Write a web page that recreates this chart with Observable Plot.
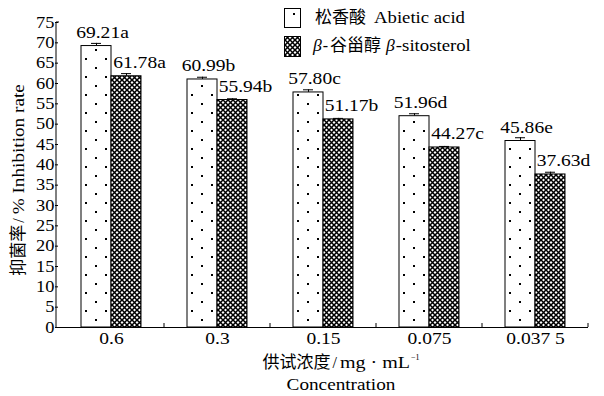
<!DOCTYPE html>
<html>
<head>
<meta charset="utf-8">
<script src="https://cdn.jsdelivr.net/npm/d3@7"></script>
<script src="https://cdn.jsdelivr.net/npm/@observablehq/plot@0.6"></script>
<style>
  body { margin: 0; background: #fff; }
  #chart svg { display: block; }
</style>
</head>
<body>
<div id="chart"></div>
<script>
// Tested concentrations (mg·mL⁻¹), as printed under the axis
const concentrations = ["0.6", "0.3", "0.15", "0.075", "0.037 5"];

// Inhibition rate (%) of abietic acid, its standard error and significance letters
const abieticAcid = [69.21, 60.99, 57.80, 51.96, 45.86];
const abieticErr = [0.65, 0.55, 0.65, 0.6, 0.8];
const abieticLetters = ["a", "b", "c", "d", "e"];

// Inhibition rate (%) of β-sitosterol, its standard error and significance letters
const sitosterol = [61.78, 55.94, 51.17, 44.27, 37.63];
const sitosterolErr = [0.65, 0.3, 0.25, 0.25, 0.55];
const sitosterolLetters = ["a", "b", "b", "c", "d"];

const yTicks = [0, 5, 10, 15, 20, 25, 30, 35, 40, 45, 50, 55, 60, 65, 70, 75];

const SERIF = "'Liberation Serif', 'Times New Roman', serif";
const CJK = "'Noto Sans CJK SC', sans-serif";
const STRETCH = 1.22;

const series = [
  {key: "abietic", values: abieticAcid, err: abieticErr, letters: abieticLetters, fill: "url(#dots)", dx: 6},
  {key: "sitosterol", values: sitosterol, err: sitosterolErr, letters: sitosterolLetters, fill: "url(#xhatch)", dx: 13}
];

const rows = series.flatMap((s) =>
  concentrations.map((c, i) => ({
    conc: c,
    series: s.key,
    value: s.values[i],
    top: s.values[i] + s.err[i],
    label: s.values[i].toFixed(2) + s.letters[i]
  }))
);

const plot = Plot.plot({
  width: 604,
  height: 396,
  marginLeft: 56,
  marginRight: 14,
  marginTop: 22,
  marginBottom: 69,
  style: {fontFamily: SERIF, fontSize: "16px", background: "#fff", color: "#000"},
  fx: {domain: concentrations, padding: 0, label: null, tickSize: 0, tickPadding: 5},
  x: {domain: series.map((s) => s.key), paddingInner: 0, paddingOuter: 0.726, axis: null},
  y: {domain: [0, 75], ticks: yTicks, tickSize: 3, tickPadding: 1, label: null},
  marks: [
    Plot.ruleX(rows, {fx: "conc", x: "series", y1: "value", y2: "top", stroke: "#000", strokeWidth: 1}),
    Plot.tickY(rows, {fx: "conc", x: "series", y: "top", insetLeft: 10, insetRight: 10, stroke: "#000", strokeWidth: 1}),
    ...series.map((s) =>
      Plot.barY(rows.filter((d) => d.series === s.key), {
        fx: "conc", x: "series", y: "value", fill: s.fill, stroke: "#000", strokeWidth: 1
      })
    ),
    ...series.map((s) =>
      Plot.text(rows.filter((d) => d.series === s.key), {
        fx: "conc", x: "series", y: "value", text: "label",
        dx: s.dx, dy: -8, lineAnchor: "bottom", fill: "#000", className: "vlabel"
      })
    ),
    Plot.ruleY([0], {stroke: "#000", strokeWidth: 1})
  ]
});

document.getElementById("chart").appendChild(plot);

const svg = d3.select(plot);

// Fill patterns: sparse dots and a dense diagonal cross-hatch
const defs = svg.insert("defs", ":first-child");
const dots = defs.append("pattern").attr("id", "dots")
  .attr("patternUnits", "userSpaceOnUse").attr("width", 20).attr("height", 18);
dots.append("rect").attr("width", 20).attr("height", 18).attr("fill", "#fff");
dots.append("rect").attr("x", 3).attr("y", 4).attr("width", 2).attr("height", 2).attr("fill", "#000");
dots.append("rect").attr("x", 13).attr("y", 13).attr("width", 2).attr("height", 2).attr("fill", "#000");

const xh = defs.append("pattern").attr("id", "xhatch")
  .attr("patternUnits", "userSpaceOnUse").attr("width", 5).attr("height", 5);
xh.append("rect").attr("width", 5).attr("height", 5).attr("fill", "#fff");
xh.append("path").attr("d", "M-1,-1L6,6M6,-1L-1,6")
  .attr("stroke", "#000").attr("stroke-width", 1.5).attr("fill", "none");

// Widen the Times-style numerals a little
function stretch(node, k) {
  const w = node.getComputedTextLength();
  node.setAttribute("textLength", w * k);
  node.setAttribute("lengthAdjust", "spacingAndGlyphs");
}
svg.selectAll("g.vlabel text").each(function () { stretch(this, STRETCH); });
svg.selectAll('[aria-label="y-axis tick label"] text').each(function () { stretch(this, 1.15); });
svg.selectAll('[aria-label="fx-axis tick label"] text').each(function () { stretch(this, STRETCH); });

// Axis frame: vertical y line and upward ticks at each group boundary
const fx = plot.scale("fx");
const y = plot.scale("y");
const x0 = fx.range[0];
const y0 = y.apply(0);
const yTop = y.apply(75);
const frame = svg.append("g").attr("stroke", "#000").attr("stroke-width", 1);
frame.append("line").attr("x1", x0).attr("x2", x0).attr("y1", y0 + 0.5).attr("y2", yTop);
frame.append("line").attr("x1", x0).attr("x2", x0 + 3).attr("y1", yTop).attr("y2", yTop);
for (const c of concentrations) {
  const xb = fx.apply(c) + fx.bandwidth;
  frame.append("line").attr("x1", xb).attr("x2", xb).attr("y1", y0).attr("y2", y0 - 4);
}

// Mixed Chinese / Latin text runs, laid out left to right
function drawRun(parent, x, yPos, parts, anchor = "start") {
  const g = parent.append("g").attr("fill", "#000").attr("text-anchor", "start");
  let cx = 0;
  for (const p of parts) {
    const t = g.append("text")
      .attr("x", cx).attr("y", p.dy || 0)
      .attr("text-anchor", "start")
      .attr("font-family", p.cjk ? CJK : SERIF)
      .attr("font-size", p.size || 16)
      .attr("font-style", p.italic ? "italic" : null)
      .text(p.text);
    let w = t.node().getComputedTextLength();
    if (p.stretch) {
      w *= p.stretch;
      t.attr("textLength", w).attr("lengthAdjust", "spacingAndGlyphs");
    }
    cx += w + (p.gap || 0);
  }
  const shift = anchor === "middle" ? -cx / 2 : 0;
  g.attr("transform", `translate(${x + shift},${yPos})`);
  return g;
}

// Legend
const legend = svg.append("g");
legend.append("rect").attr("x", 284.5).attr("y", 8.5).attr("width", 16).attr("height", 19)
  .attr("fill", "url(#dots)").attr("stroke", "#000");
legend.append("rect").attr("x", 284.5).attr("y", 36.5).attr("width", 16).attr("height", 20)
  .attr("fill", "url(#xhatch)").attr("stroke", "#000");
drawRun(legend, 315, 23, [
  {text: "松香酸", cjk: true, size: 17, gap: 8},
  {text: "Abietic acid", stretch: 1.17}
]);
drawRun(legend, 313, 51, [
  {text: "β", italic: true, stretch: 1.1, gap: 1},
  {text: "-", gap: 2},
  {text: "谷甾醇", cjk: true, size: 17, gap: 5},
  {text: "β", italic: true, stretch: 1.1, gap: 1},
  {text: "-sitosterol", stretch: 1.17}
]);

// Axis titles
drawRun(svg, 341, 368, [
  {text: "供试浓度", cjk: true, size: 17, gap: 2},
  {text: "/", gap: 3},
  {text: "mg · mL", stretch: 1.25, gap: 1},
  {text: "−1", size: 8, dy: -8}
], "middle");
drawRun(svg, 341, 390, [{text: "Concentration", stretch: 1.2}], "middle");

const yTitle = svg.append("g").attr("transform", "translate(24,180) rotate(-90)");
drawRun(yTitle, 0, 0, [
  {text: "抑菌率", cjk: true, size: 17, gap: 2},
  {text: "/", gap: 4},
  {text: "% Inhibition rate", stretch: 1.2}
], "middle");
</script>
</body>
</html>
